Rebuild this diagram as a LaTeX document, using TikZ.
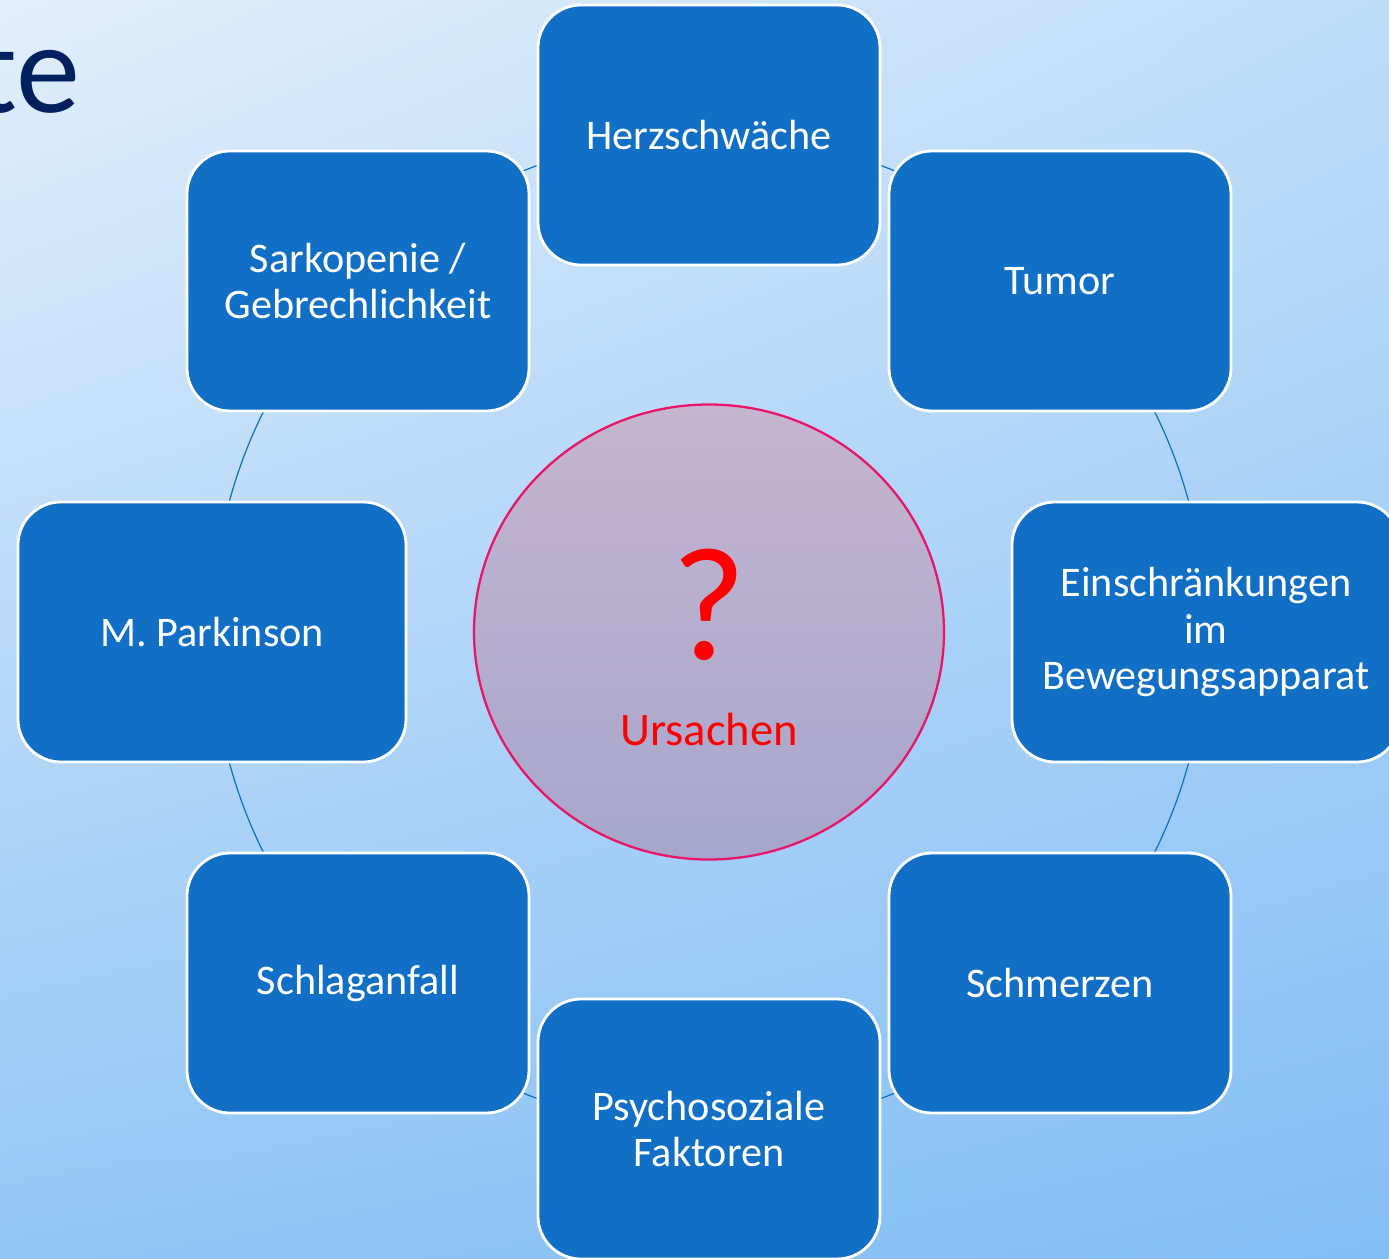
\documentclass[tikz,border=0pt]{standalone}
\usepackage{fontspec}
\setmainfont{Carlito}
\usepackage{tikz}
\usetikzlibrary{shapes.geometric, positioning, shadings}
\definecolor{boxblue}{RGB}{17,112,198}
\definecolor{titleblue}{RGB}{0,32,96}
\definecolor{rimred}{RGB}{234,20,104}
\definecolor{circtop}{RGB}{197,181,208}
\definecolor{circbot}{RGB}{166,166,204}
\definecolor{bgtl}{RGB}{226,239,252}
\definecolor{bgtr}{RGB}{192,221,248}
\definecolor{bgbl}{RGB}{147,198,245}
\definecolor{bgbr}{RGB}{132,190,245}

\begin{document}
\begin{tikzpicture}[
		cause/.style = {draw=white, line width=1.6pt, fill=boxblue, rounded corners=0.86cm, minimum width=6.84cm, minimum height=5.2cm, text=white, align=center, font=\fontsize{24}{26.7}\selectfont},
		widecause/.style = {cause, minimum width=7.76cm},
		ring/.style = {draw=boxblue, line width=0.7pt}
	]
		\useasboundingbox (-14.18,-12.52) rectangle (13.6,12.64);
		\clip (-14.18,-12.52) rectangle (13.6,12.64);
		\shade[upper left=bgtl, upper right=bgtr, lower left=bgbl, lower right=bgbr] (-14.18,-12.52) rectangle (13.6,12.64);

		\node(titel)  [anchor=base east, text=titleblue, font=\fontsize{73}{73}\selectfont] at (-12.46,10.38)  {te};

		\node(ursachen)  [ellipse, draw=rimred, line width=1.3pt, top color=circtop, bottom color=circbot, minimum width=9.4cm, minimum height=9.1cm] at (0,0)  {};
		\node(frage)  [text=red, font=\fontsize{92}{92}\selectfont] at (0,0.54)  {?};
		\node(wort)  [anchor=base, text=red, font=\fontsize{26.5}{30}\selectfont] at (0,-2.26)  {Ursachen};

		% ring behind the boxes
		\draw[ring] (ursachen.center) circle (9.94cm);

		\node(herz)  [cause] at (0,9.94)  {Herzschwäche};
		\node(tumor)  [cause] at (7.02,7.02)  {Tumor};
		\node(einschr)  [widecause] at (9.94,0)  {Einschränkungen\\im\\Bewegungsapparat};
		\node(schmerz)  [cause] at (7.02,-7.02)  {Schmerzen};
		\node(psycho)  [cause] at (0,-9.94)  {Psychosoziale\\Faktoren};
		\node(schlag)  [cause] at (-7.02,-7.02)  {Schlaganfall};
		\node(parkinson)  [widecause] at (-9.94,0)  {M. Parkinson};
		\node(sarko)  [cause] at (-7.02,7.02)  {Sarkopenie /\\Gebrechlichkeit};
\end{tikzpicture}
\end{document}
